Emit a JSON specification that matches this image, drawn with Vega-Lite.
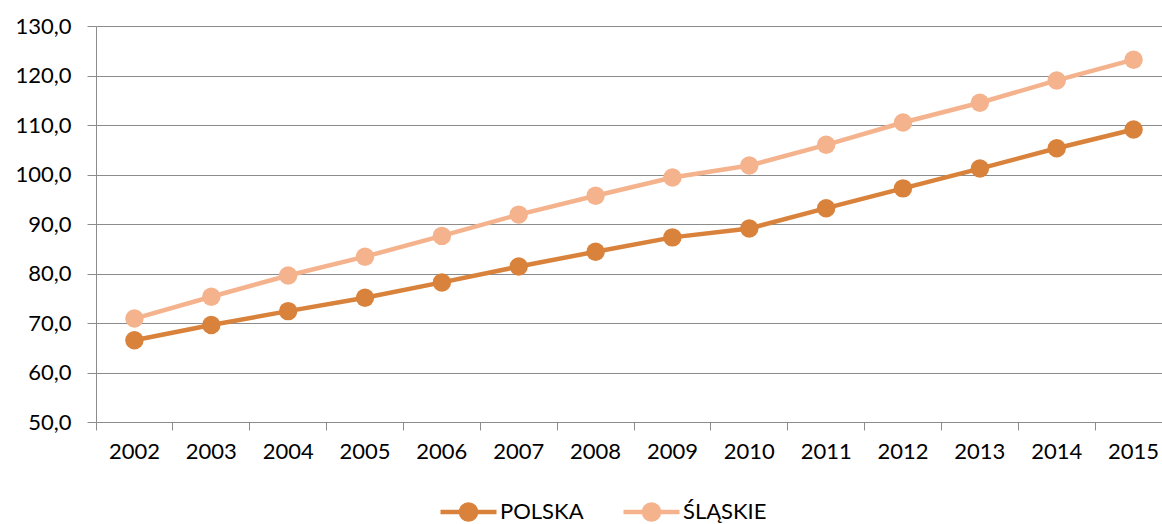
{
  "$schema": "https://vega.github.io/schema/vega-lite/v6.json",
  "width": 1066,
  "height": 396,
  "autosize": {"type": "none"},
  "padding": {"left": 96, "top": 26, "right": 0, "bottom": 102},
  "background": "white",
  "config": {"view": {"stroke": null}, "font": "Lato"},
  "data": {
    "values": [
      {"year": "2002", "region": "POLSKA", "value": 66.5},
      {"year": "2003", "region": "POLSKA", "value": 69.6},
      {"year": "2004", "region": "POLSKA", "value": 72.4},
      {"year": "2005", "region": "POLSKA", "value": 75.1},
      {"year": "2006", "region": "POLSKA", "value": 78.2},
      {"year": "2007", "region": "POLSKA", "value": 81.4},
      {"year": "2008", "region": "POLSKA", "value": 84.4},
      {"year": "2009", "region": "POLSKA", "value": 87.3},
      {"year": "2010", "region": "POLSKA", "value": 89.1},
      {"year": "2011", "region": "POLSKA", "value": 93.2},
      {"year": "2012", "region": "POLSKA", "value": 97.2},
      {"year": "2013", "region": "POLSKA", "value": 101.2},
      {"year": "2014", "region": "POLSKA", "value": 105.3},
      {"year": "2015", "region": "POLSKA", "value": 109.1},
      {"year": "2002", "region": "ŚLĄSKIE", "value": 70.9},
      {"year": "2003", "region": "ŚLĄSKIE", "value": 75.3},
      {"year": "2004", "region": "ŚLĄSKIE", "value": 79.6},
      {"year": "2005", "region": "ŚLĄSKIE", "value": 83.4},
      {"year": "2006", "region": "ŚLĄSKIE", "value": 87.6},
      {"year": "2007", "region": "ŚLĄSKIE", "value": 91.9},
      {"year": "2008", "region": "ŚLĄSKIE", "value": 95.7},
      {"year": "2009", "region": "ŚLĄSKIE", "value": 99.4},
      {"year": "2010", "region": "ŚLĄSKIE", "value": 101.8},
      {"year": "2011", "region": "ŚLĄSKIE", "value": 106.0},
      {"year": "2012", "region": "ŚLĄSKIE", "value": 110.5},
      {"year": "2013", "region": "ŚLĄSKIE", "value": 114.5},
      {"year": "2014", "region": "ŚLĄSKIE", "value": 119.0},
      {"year": "2015", "region": "ŚLĄSKIE", "value": 123.2}
    ]
  },
  "encoding": {
    "x": {
      "field": "year",
      "type": "ordinal",
      "scale": {"type": "band", "paddingInner": 0, "paddingOuter": 0, "range": [0, 1076]},
      "axis": {
        "title": null,
        "bandPosition": 0,
        "labelAngle": 0,
        "grid": false,
        "tickSize": 8,
        "tickColor": "#8c8c8c",
        "domainColor": "#8c8c8c",
        "labelFontSize": 22,
        "labelColor": "#000000",
        "labelPadding": 11
      }
    },
    "y": {
      "field": "value",
      "type": "quantitative",
      "scale": {"domain": [50, 130], "nice": false, "zero": false},
      "axis": {
        "title": null,
        "values": [50, 60, 70, 80, 90, 100, 110, 120, 130],
        "labelExpr": "replace(format(datum.value, '.1f'), '.', ',')",
        "tickSize": 9,
        "tickColor": "#8c8c8c",
        "gridColor": "#8c8c8c",
        "domainColor": "#8c8c8c",
        "labelFontSize": 22,
        "labelColor": "#000000",
        "labelPadding": 16
      }
    },
    "color": {
      "field": "region",
      "type": "nominal",
      "scale": {"domain": ["POLSKA", "ŚLĄSKIE"], "range": ["#D9823B", "#F5B38D"]},
      "legend": {
        "title": null,
        "orient": "none",
        "direction": "horizontal",
        "legendX": 342,
        "legendY": 455,
        "symbolType": "M-1,0H1M-0.27,0A0.27,0.27 0 1,0 0.27,0A0.27,0.27 0 1,0 -0.27,0Z",
        "symbolSize": 3136,
        "symbolStrokeWidth": 4.5,
        "labelFontSize": 22,
        "labelColor": "#000000",
        "labelOffset": 1,
        "columnPadding": 30,
        "encode": {
          "symbols": {
            "update": {
              "fill": {"scale": "color", "field": "value"},
              "stroke": {"scale": "color", "field": "value"},
              "opacity": {"value": 1}
            }
          }
        }
      }
    }
  },
  "layer": [
    {"mark": {"type": "line", "strokeWidth": 4.5}},
    {"mark": {"type": "point", "filled": true, "size": 340, "opacity": 1}}
  ]
}
